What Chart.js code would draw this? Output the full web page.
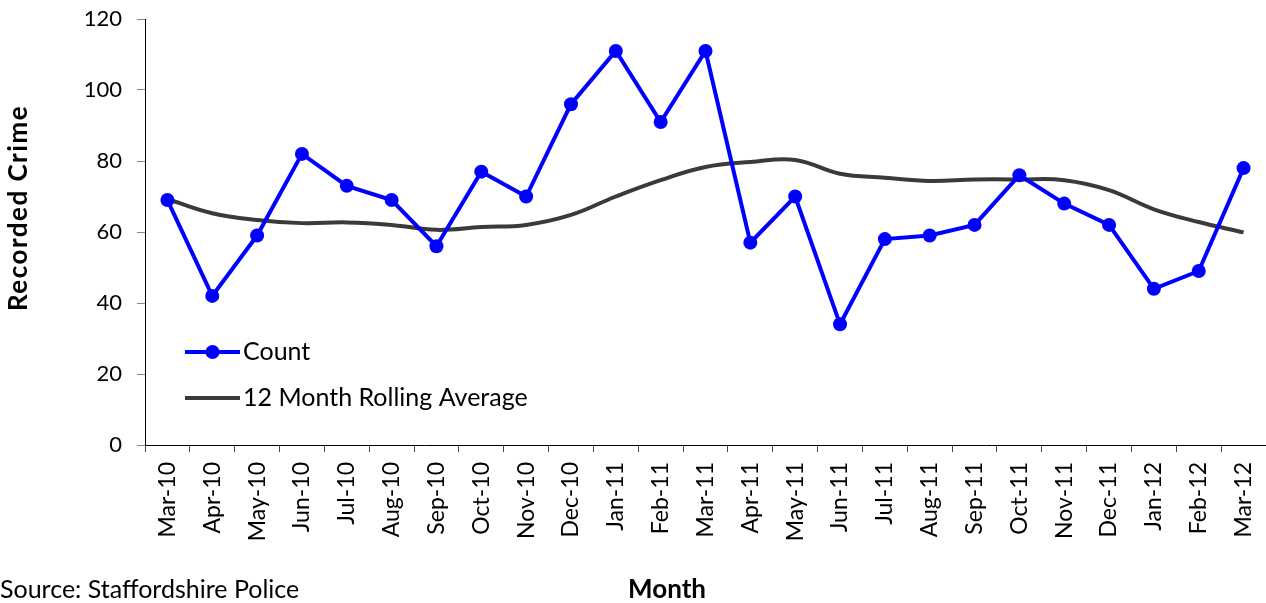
<!DOCTYPE html>
<html>
<head>
<meta charset="utf-8">
<title>Recorded Crime</title>
<script src="https://cdn.jsdelivr.net/npm/chart.js@4"></script>
<style>
    html, body { margin: 0; padding: 0; background: #fff; }
    #wrap { width: 1266px; height: 603px; position: relative; }
</style>
</head>
<body>
<div id="wrap"><canvas id="crimeChart"></canvas></div>
<script>
const months = ['Mar-10', 'Apr-10', 'May-10', 'Jun-10', 'Jul-10', 'Aug-10', 'Sep-10', 'Oct-10', 'Nov-10',
    'Dec-10', 'Jan-11', 'Feb-11', 'Mar-11', 'Apr-11', 'May-11', 'Jun-11', 'Jul-11', 'Aug-11', 'Sep-11',
    'Oct-11', 'Nov-11', 'Dec-11', 'Jan-12', 'Feb-12', 'Mar-12'];
const counts = [69, 42, 59, 82, 73, 69, 56, 77, 70, 96, 111, 91, 111, 57, 70, 34, 58, 59, 62, 76, 68, 62, 44, 49, 78];
const rollingAvg = [69.3, 65.3, 63.4, 62.5, 62.7, 62.0, 60.6, 61.4, 62.0, 64.8, 70.0, 74.6, 78.3, 79.7, 80.3,
    76.4, 75.3, 74.4, 74.8, 74.8, 74.6, 71.8, 66.4, 62.8, 59.9];
const yTicks = [0, 20, 40, 60, 80, 100, 120];

const FONT = 'Lato, "Open Sans", sans-serif';

Chart.defaults.font.family = FONT;
Chart.defaults.color = '#000';

// titles and source note
const textPlugin = {
    id: 'textPlugin',
    afterDraw(chart) {
        const ctx = chart.ctx;
        ctx.save();
        ctx.fillStyle = '#000';
        ctx.textBaseline = 'middle';

        ctx.font = 'bold 26px ' + FONT;
        ctx.save();
        ctx.translate(19, 208);
        ctx.rotate(-Math.PI / 2);
        ctx.textAlign = 'center';
        ctx.letterSpacing = '1.5px';
        ctx.fillText('Recorded Crime', 0, 0);
        ctx.restore();

        ctx.textAlign = 'center';
        ctx.fillText('Month', 667, 590);

        ctx.font = '25px ' + FONT;
        ctx.textAlign = 'left';
        ctx.fillText('Source: Staffordshire Police', 0, 590);
        ctx.restore();
    }
};

// legend drawn inside the plot area, lower left
const innerLegend = {
    id: 'innerLegend',
    afterDraw(chart) {
        const ctx = chart.ctx;
        const x0 = chart.chartArea.left + 40;
        const rows = [352, 398];
        ctx.save();
        chart.data.datasets.forEach((ds, i) => {
            const y = rows[i];
            ctx.strokeStyle = ds.borderColor;
            ctx.lineWidth = ds.borderWidth;
            ctx.lineCap = 'butt';
            ctx.beginPath();
            ctx.moveTo(x0, y);
            ctx.lineTo(x0 + 55, y);
            ctx.stroke();
            if (ds.pointRadius > 0) {
                ctx.fillStyle = ds.pointBackgroundColor;
                ctx.beginPath();
                ctx.arc(x0 + 27.5, y, ds.pointRadius, 0, Math.PI * 2);
                ctx.fill();
            }
            ctx.fillStyle = '#000';
            ctx.font = '25px ' + FONT;
            ctx.textAlign = 'left';
            ctx.textBaseline = 'middle';
            ctx.fillText(ds.label, x0 + 58, y);
        });
        ctx.restore();
    }
};

new Chart(document.getElementById('crimeChart'), {
    type: 'line',
    data: {
        labels: months,
        datasets: [{
            label: 'Count',
            data: counts,
            borderColor: '#0000ff',
            backgroundColor: '#0000ff',
            pointBackgroundColor: '#0000ff',
            pointBorderWidth: 0,
            borderWidth: 4,
            pointRadius: 7,
            tension: 0
        }, {
            label: '12 Month Rolling Average',
            data: rollingAvg,
            borderColor: '#3a3a3a',
            backgroundColor: '#3a3a3a',
            borderWidth: 4,
            pointRadius: 0,
            tension: 0.4
        }]
    },
    options: {
        responsive: true,
        maintainAspectRatio: false,
        animation: false,
        layout: {
            autoPadding: false,
            padding: { top: 19, right: 0, bottom: 0, left: 0 }
        },
        plugins: {
            legend: { display: false },
            tooltip: { enabled: false }
        },
        scales: {
            x: {
                offset: true,
                afterFit(scale) {
                    scale.height = 158;
                    scale.paddingLeft = 0;
                    scale.paddingRight = 0;
                },
                grid: {
                    offset: true,
                    drawOnChartArea: false,
                    drawTicks: true,
                    tickLength: 7,
                    tickColor: '#444'
                },
                border: { color: '#000', width: 1 },
                ticks: {
                    minRotation: 90,
                    maxRotation: 90,
                    autoSkip: false,
                    padding: 10,
                    font: { size: 23 }
                }
            },
            y: {
                min: 0,
                max: 120,
                afterFit(scale) {
                    scale.width = 145;
                    scale.paddingTop = 0;
                    scale.paddingBottom = 0;
                },
                afterBuildTicks(scale) { scale.ticks = yTicks.map(v => ({ value: v })); },
                grid: {
                    drawOnChartArea: false,
                    drawTicks: true,
                    tickLength: 8,
                    tickColor: '#888'
                },
                border: { color: '#000', width: 1 },
                ticks: {
                    padding: 15,
                    font: { size: 22 }
                }
            }
        }
    },
    plugins: [textPlugin, innerLegend]
});
</script>
</body>
</html>
